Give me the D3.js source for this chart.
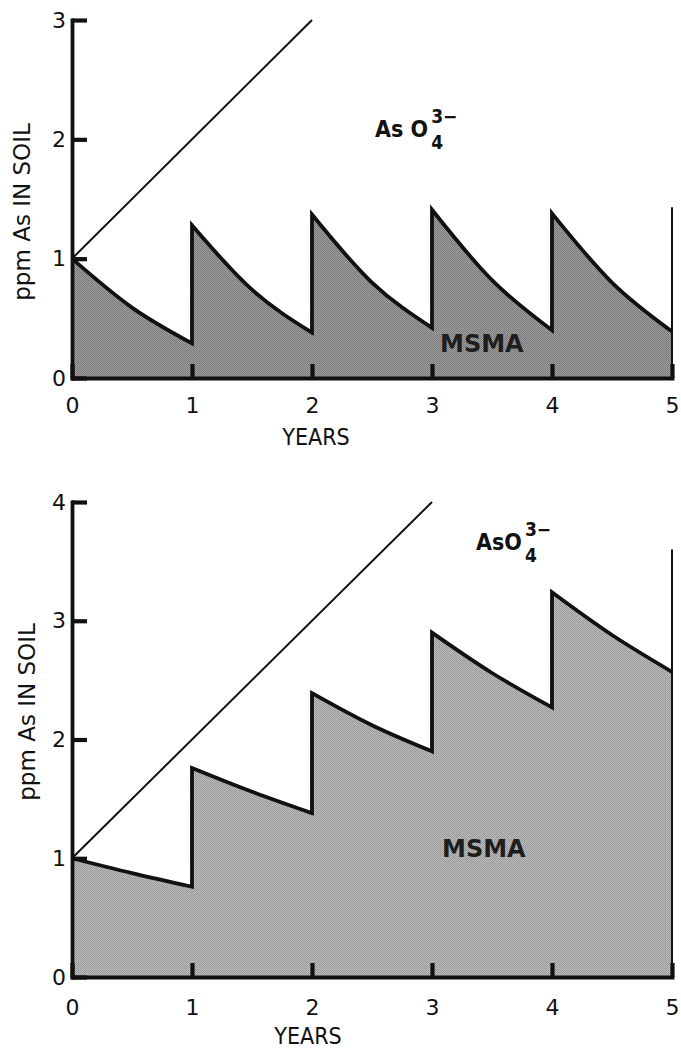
<!DOCTYPE html>
<html>
<head>
<meta charset="utf-8">
<script src="https://cdn.jsdelivr.net/npm/d3@7"></script>
<style>
  html, body { margin: 0; padding: 0; background: #fff; }
  svg { display: block; }
</style>
</head>
<body>
<svg id="chart" width="681" height="1050"></svg>
<script>
// Years on the horizontal axis
const years = [0, 1, 2, 3, 4, 5];

// Upper panel: one application per year, fast decay (ppm As)
const topPeaks   = [1.00, 1.28, 1.37, 1.41, 1.38]; // just after each yearly application
const topMids    = [0.59, 0.74, 0.80, 0.82, 0.80]; // half a year later
const topTroughs = [0.29, 0.38, 0.42, 0.40, 0.39]; // just before the next application
const topFinal   = 1.43;                           // after the application at year 5
const topYTicks  = [0, 1, 2, 3];
const topArsenateX = [0, 2];
const topArsenateY = [1, 3];

// Lower panel: slower decay, residues build up
const botPeaks   = [1.00, 1.76, 2.39, 2.90, 3.24];
const botMids    = [0.875, 1.56, 2.12, 2.56, 2.88];
const botTroughs = [0.76, 1.38, 1.90, 2.27, 2.57];
const botFinal   = 3.60;
const botYTicks  = [0, 1, 2, 3, 4];
const botArsenateX = [0, 3];
const botArsenateY = [1, 4];

const svg = d3.select("#chart");
const FONT = "DejaVu Sans, Liberation Sans, sans-serif";
const FONT_C = "DejaVu Sans Condensed, DejaVu Sans, sans-serif";

// halftone-like screens for the shaded areas
const defs = svg.append("defs");
function screen(id, a, b) {
  const p = defs.append("pattern").attr("id", id)
    .attr("patternUnits", "userSpaceOnUse").attr("width", 2).attr("height", 2);
  p.append("rect").attr("width", 2).attr("height", 2).attr("fill", b);
  p.append("rect").attr("width", 1).attr("height", 1).attr("fill", a).attr("shape-rendering", "crispEdges");
  p.append("rect").attr("x", 1).attr("y", 1).attr("width", 1).attr("height", 1).attr("fill", a).attr("shape-rendering", "crispEdges");
}
screen("screenTop", "#767676", "#a2a2a2");
screen("screenBot", "#999999", "#bcbcbc");

function panel(cfg) {
  const x = d3.scaleLinear().domain([0, 5]).range([72, 672]);
  const y = d3.scaleLinear().domain(cfg.yDomain).range(cfg.yRange);
  const g = svg.append("g");

  // saw-tooth outline built from one smooth segment per year
  const seg = d3.line().x(d => x(d[0])).y(d => y(d[1])).curve(d3.curveMonotoneX);
  const parts = cfg.peaks.map((p, i) =>
    seg([[years[i], p], [years[i] + 0.5, cfg.mids[i]], [years[i + 1], cfg.troughs[i]]]));
  const outline = parts.map((d, i) => i === 0 ? d : d.replace(/^M/, "L")).join("");

  g.append("path")
    .attr("d", outline + `L${x(5)},${y(0)}L${x(0)},${y(0)}Z`)
    .attr("fill", `url(#${cfg.screen})`);

  g.append("path")
    .attr("d", outline)
    .attr("fill", "none").attr("stroke", "#111")
    .attr("stroke-width", 3.8).attr("stroke-linejoin", "miter");

  // application at year 5
  g.append("line")
    .attr("x1", x(5)).attr("x2", x(5))
    .attr("y1", y(0)).attr("y2", y(cfg.final))
    .attr("stroke", "#111").attr("stroke-width", 2);

  // arsenate accumulation line
  g.append("path")
    .datum(cfg.arsX.map((v, i) => [v, cfg.arsY[i]]))
    .attr("d", d3.line().x(d => x(d[0])).y(d => y(d[1])))
    .attr("fill", "none").attr("stroke", "#111").attr("stroke-width", 2);

  // axes with inward ticks
  const yAxis = d3.axisLeft(y).tickValues(cfg.yTicks).tickFormat(d3.format("d"))
    .tickSizeInner(-15).tickSizeOuter(0).tickPadding(7);
  const ya = g.append("g").attr("transform", `translate(${x(0)},0)`).call(yAxis);
  const xAxis = d3.axisBottom(x).tickValues(years).tickFormat(d3.format("d"))
    .tickSizeInner(-14).tickSizeOuter(0).tickPadding(cfg.xPad);
  const xa = g.append("g").attr("transform", `translate(0,${y(0)})`).call(xAxis);

  [ya, xa].forEach(a => {
    a.select(".domain").attr("stroke", "#111").attr("stroke-width", 3.8)
      .attr("stroke-linecap", "square");
    a.selectAll(".tick line").attr("stroke", "#111").attr("stroke-width", 4.2);
    a.selectAll(".tick text").attr("fill", "#111")
      .style("font-family", FONT).style("font-size", "22px");
  });
  ya.selectAll(".tick text").attr("x", -6);

  // axis titles
  g.append("text")
    .attr("transform", `translate(${cfg.yTitle[0]},${cfg.yTitle[1]}) rotate(-90)`)
    .attr("text-anchor", "middle").attr("dy", "0.36em")
    .style("font-family", FONT).style("font-size", "23px").attr("fill", "#111")
    .text("ppm As IN SOIL");
  g.append("text")
    .attr("x", cfg.xTitle[0]).attr("y", cfg.xTitle[1])
    .attr("text-anchor", "middle").attr("dy", "0.36em")
    .style("font-family", FONT_C).style("font-size", "23px").attr("fill", "#111")
    .text("YEARS");

  // MSMA label inside the shaded area
  g.append("text")
    .attr("x", cfg.msma[0]).attr("y", cfg.msma[1])
    .style("font-family", FONT).style("font-size", "24px").style("font-weight", "bold")
    .attr("fill", "#1e1e1e").text("MSMA");

  // arsenate label with charge and subscript
  const main = g.append("text")
    .attr("x", cfg.ars[0]).attr("y", cfg.ars[1])
    .style("font-family", FONT_C).style("font-size", "23px").style("font-weight", "bold")
    .attr("fill", "#111").text(cfg.arsText);
  const w = main.node().getComputedTextLength();
  g.append("text")
    .attr("x", cfg.ars[0] + w + 3).attr("y", cfg.ars[1] - 14)
    .style("font-family", FONT_C).style("font-size", "19px").style("font-weight", "bold")
    .attr("fill", "#111").text("3\u2212");
  g.append("text")
    .attr("x", cfg.ars[0] + w + 3).attr("y", cfg.ars[1] + 12)
    .style("font-family", FONT_C).style("font-size", "19px").style("font-weight", "bold")
    .attr("fill", "#111").text("4");
}

panel({
  yDomain: [0, 3], yRange: [378, 20], yTicks: topYTicks,
  peaks: topPeaks, mids: topMids, troughs: topTroughs, final: topFinal,
  arsX: topArsenateX, arsY: topArsenateY, screen: "screenTop",
  xPad: 19, yTitle: [22, 212], xTitle: [316, 437],
  msma: [440, 352], ars: [375, 137], arsText: "As O"
});

panel({
  yDomain: [0, 4], yRange: [977, 502], yTicks: botYTicks,
  peaks: botPeaks, mids: botMids, troughs: botTroughs, final: botFinal,
  arsX: botArsenateX, arsY: botArsenateY, screen: "screenBot",
  xPad: 22, yTitle: [27, 712], xTitle: [308, 1036],
  msma: [442, 857], ars: [476, 550], arsText: "AsO"
});
</script>
</body>
</html>
